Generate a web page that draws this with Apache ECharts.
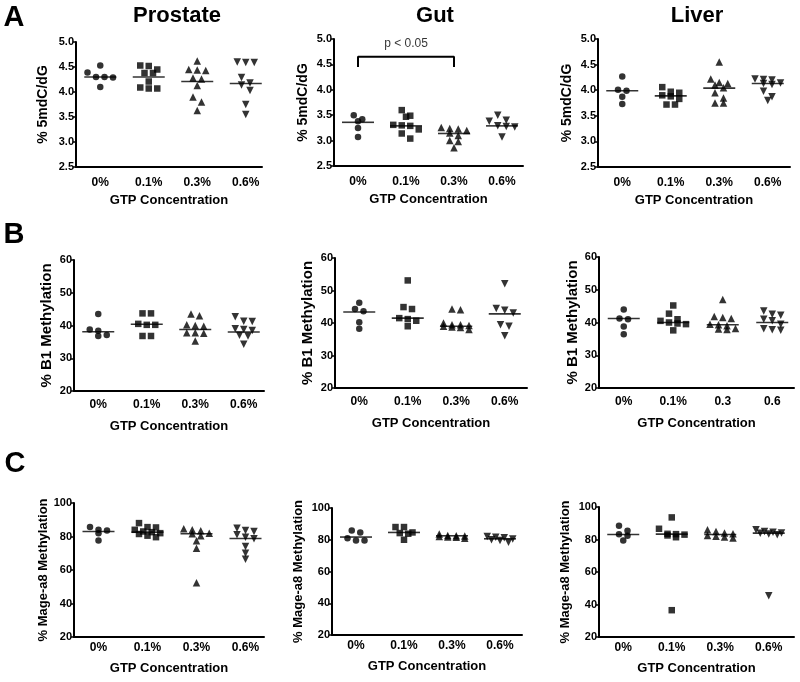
<!DOCTYPE html>
<html><head><meta charset="utf-8">
<script src="https://cdn.jsdelivr.net/npm/echarts@6/dist/echarts.min.js"></script>
<style>html,body{margin:0;padding:0;background:#fff}#c{width:800px;height:682px}</style>
</head><body><div id="c"></div><script>
// ---------- DATA ----------
const categories = ['0%', '0.1%', '0.3%', '0.6%'];
const categoriesLiverB1 = ['0%', '0.1%', '0.3', '0.6'];
const yTicks5mdC = [2.5, 5.0, 0.5];
const yTicksB1 = [20, 60, 10];
const yTicksMage = [20, 100, 20];

const prostate5mdC = [
  [4.53, 4.39, 4.30, 4.30, 4.29, 4.10],
  [4.53, 4.52, 4.45, 4.38, 4.38, 4.21, 4.09, 4.07, 4.07],
  [4.62, 4.45, 4.43, 4.44, 4.28, 4.26, 4.13, 3.90, 3.80, 3.63],
  [4.60, 4.59, 4.59, 4.29, 4.18, 4.14, 4.03, 3.75, 3.55]
];
const prostate5mdCLine = [4.30, 4.30, 4.21, 4.17];

const gut5mdC = [
  [3.50, 3.42, 3.38, 3.25, 3.07],
  [3.60, 3.49, 3.47, 3.31, 3.29, 3.30, 3.22, 3.14, 3.04],
  [3.26, 3.24, 3.23, 3.20, 3.15, 3.10, 3.00, 2.98, 2.86],
  [3.50, 3.40, 3.38, 3.29, 3.28, 3.27, 3.07]
];
const gut5mdCLine = [3.36, 3.29, 3.14, 3.29];

const liver5mdC = [
  [4.27, 4.01, 3.99, 3.87, 3.73],
  [4.06, 3.97, 3.95, 3.90, 3.88, 3.83, 3.72, 3.72],
  [4.55, 4.22, 4.15, 4.13, 4.10, 4.05, 3.95, 3.85, 3.75, 3.75],
  [4.22, 4.21, 4.20, 4.14, 4.13, 4.11, 3.98, 3.87, 3.80]
];
const liver5mdCLine = [3.99, 3.89, 4.04, 4.13];

const prostateB1 = [
  [43.5, 38.8, 38.4, 37.1, 36.8],
  [43.7, 43.7, 40.5, 40.2, 40.2, 36.8, 36.8],
  [43.5, 43.0, 40.2, 40.0, 39.8, 37.8, 37.8, 37.6, 35.3],
  [42.7, 41.3, 41.2, 39.0, 38.8, 38.5, 37.0, 36.8, 34.3]
];
const prostateB1Line = [38.1, 40.4, 38.8, 38.0];

const gutB1 = [
  [46.2, 44.3, 43.6, 40.2, 38.2],
  [53.1, 44.9, 44.3, 41.5, 41.2, 40.7, 39.0],
  [44.3, 44.1, 40.0, 39.5, 39.5, 39.2, 39.0, 38.8, 38.6, 38.0],
  [52.1, 44.5, 43.9, 43.1, 39.5, 39.0, 36.1]
];
const gutB1Line = [43.4, 41.5, 39.0, 42.8];

const liverB1 = [
  [44.0, 41.2, 41.0, 38.8, 36.4],
  [45.2, 42.7, 41.0, 40.5, 40.0, 39.7, 39.5, 37.6],
  [47.0, 41.8, 41.5, 41.2, 39.5, 39.3, 39.0, 38.2, 38.0, 37.9],
  [43.5, 42.5, 42.2, 41.0, 40.5, 39.5, 38.1, 37.8, 37.6]
];
const liverB1Line = [41.2, 40.0, 39.3, 40.0];

const prostateMage = [
  [85.6, 84.0, 83.6, 82.0, 77.6],
  [88.0, 85.6, 85.4, 84.0, 83.0, 82.6, 82.0, 81.5, 80.5, 79.6],
  [84.6, 84.0, 83.5, 82.0, 81.6, 80.4, 77.4, 73.0, 52.4],
  [85.0, 83.6, 83.0, 81.0, 79.6, 78.6, 74.0, 70.0, 66.4]
];
const prostateMageLine = [83.0, 82.6, 81.6, 78.8];

const gutMage = [
  [85.9, 84.6, 81.0, 79.6, 79.6],
  [88.0, 88.0, 84.6, 84.2, 83.8, 80.0],
  [83.6, 82.7, 82.5, 82.3, 82.0, 81.8, 81.5, 81.0],
  [82.0, 81.5, 81.2, 80.5, 80.0, 79.5, 78.5]
];
const gutMageLine = [81.7, 84.6, 82.5, 80.6];

const liverMage = [
  [88.5, 85.4, 83.3, 82.3, 79.4],
  [93.6, 86.6, 83.5, 83.3, 83.0, 82.5, 81.4, 36.5],
  [86.0, 85.0, 84.0, 83.5, 82.5, 82.0, 81.5, 81.0],
  [86.0, 85.0, 84.5, 84.0, 83.8, 83.4, 83.0, 45.4]
];
const liverMageLine = [83.1, 83.3, 83.1, 83.9];

// significance bracket (Gut, 5mdC): between categories 0 and 2
const gutBracket = { from: 0, to: 2, low: 4.45, high: 4.65, textValue: 4.9, text: 'p < 0.05' };

// ---------- LAYOUT / STYLE ----------
const FONT = '"Liberation Sans", Arial, sans-serif';
const rowA = { xm: 10, ng: 27 }, rowB = { xm: 8, ng: 29 }, rowC = { xm: 5, ng: 25 };
const panels = [
  { d: prostate5mdC, m: prostate5mdCLine, cats: categories, ax: yTicks5mdC, name: '% 5mdC/dG', dec: 1, fs: 14, R: rowA,
    L: { left: 76, top: 42, width: 186, height: 125, sp: 48.5, yGap: 26 } },
  { d: gut5mdC, m: gut5mdCLine, cats: categories, ax: yTicks5mdC, name: '% 5mdC/dG', dec: 1, fs: 14, R: rowA,
    L: { left: 334, top: 39, width: 189, height: 127, sp: 48, yGap: 24 } },
  { d: liver5mdC, m: liver5mdCLine, cats: categories, ax: yTicks5mdC, name: '% 5mdC/dG', dec: 1, fs: 14, R: rowA,
    L: { left: 598, top: 39, width: 192, height: 128, sp: 48.5, yGap: 24 } },
  { d: prostateB1, m: prostateB1Line, cats: categories, ax: yTicksB1, name: '% B1 Methylation', dec: 0, fs: 15, R: rowB,
    L: { left: 74, top: 260, width: 190, height: 131, sp: 48.5, yGap: 20 } },
  { d: gutB1, m: gutB1Line, cats: categories, ax: yTicksB1, name: '% B1 Methylation', dec: 0, fs: 15, R: rowB,
    L: { left: 335, top: 258, width: 192, height: 130, sp: 48.5, yGap: 20 } },
  { d: liverB1, m: liverB1Line, cats: categoriesLiverB1, ax: yTicksB1, name: '% B1 Methylation', dec: 0, fs: 15, R: rowB,
    L: { left: 599, top: 257, width: 195, height: 131, sp: 49.5, yGap: 19 } },
  { d: prostateMage, m: prostateMageLine, cats: categories, ax: yTicksMage, name: '% Mage-a8 Methylation', dec: 0, fs: 13, R: rowC,
    L: { left: 74, top: 503, width: 190, height: 134, sp: 49, yGap: 24 } },
  { d: gutMage, m: gutMageLine, cats: categories, ax: yTicksMage, name: '% Mage-a8 Methylation', dec: 0, fs: 13, R: rowC,
    L: { left: 332, top: 508, width: 190, height: 127, sp: 48, yGap: 27 } },
  { d: liverMage, m: liverMageLine, cats: categories, ax: yTicksMage, name: '% Mage-a8 Methylation', dec: 0, fs: 13, R: rowC,
    L: { left: 599, top: 507, width: 195, height: 130, sp: 48.5, yGap: 27 } }
];
const symbols = ['circle', 'rect', 'triangle', 'triangle'];
const rotations = [0, 0, 0, 180];
const symSizes = [6.5, 6.5, 7.5, 7.5];
const SPREAD = 8.5;

function swarm(vals, ppu, d, cap) {
  const order = vals.map((v, i) => i).sort((a, b) => vals[b] - vals[a]);
  const rows = []; let cur = null;
  for (const i of order) {
    if (!cur || (vals[cur.top] - vals[i]) * ppu >= 6 || cur.items.length >= cap) {
      cur = { top: i, items: [] }; rows.push(cur);
    }
    cur.items.push(i);
  }
  const off = new Array(vals.length).fill(0);
  rows.forEach(r => { const n = r.items.length; r.items.forEach((i, k) => { off[i] = (k - (n - 1) / 2) * d; }); });
  return off;
}

const grid = [], xAxis = [], yAxis = [], series = [];
panels.forEach((p, pi) => {
  const L = p.L;
  const [ymin, ymax, yint] = p.ax;
  grid.push({ left: L.left, top: L.top, width: L.width, height: L.height });
  const xmax = L.width / L.sp - 0.5;
  xAxis.push({
    gridIndex: pi, type: 'value', min: -0.5, max: xmax, interval: 0.5,
    axisLine: { show: true, onZero: false, lineStyle: { color: '#000', width: 2 } },
    axisTick: { show: false }, splitLine: { show: false },
    axisLabel: { margin: p.R.xm, color: '#000', fontSize: 12, fontWeight: 'bold', fontFamily: FONT,
      formatter: v => (Math.abs(v - Math.round(v)) < 1e-6 && Math.round(v) >= 0 && Math.round(v) < p.cats.length) ? p.cats[Math.round(v)] : '' },
    name: 'GTP Concentration', nameLocation: 'middle', nameGap: p.R.ng,
    nameTextStyle: { color: '#000', fontSize: 13, fontWeight: 'bold', fontFamily: FONT }
  });
  yAxis.push({
    gridIndex: pi, type: 'value', min: ymin, max: ymax, interval: yint,
    axisLine: { show: true, onZero: false, lineStyle: { color: '#000', width: 2 } },
    axisTick: { show: true, length: 3, lineStyle: { color: '#000', width: 1.5 } },
    splitLine: { show: false },
    axisLabel: { margin: 2, color: '#000', fontSize: 11, fontWeight: 'bold', fontFamily: FONT,
      formatter: v => v.toFixed(p.dec) },
    name: p.name, nameLocation: 'middle', nameGap: L.yGap,
    nameTextStyle: { color: '#000', fontSize: p.fs, fontWeight: 'bold', fontFamily: FONT }
  });
  const ppu = L.height / (ymax - ymin);
  p.d.forEach((vals, c) => {
    const off = swarm(vals, ppu, SPREAD, 4);
    series.push({
      type: 'scatter', xAxisIndex: pi, yAxisIndex: pi, silent: true, animation: false,
      symbol: symbols[c], symbolRotate: rotations[c], symbolSize: symSizes[c],
      itemStyle: { color: '#000' },
      data: vals.map((v, k) => ({ value: [c, v], symbolOffset: [off[k], 0] }))
    });
  });
  series.push({
    type: 'scatter', xAxisIndex: pi, yAxisIndex: pi, silent: true, animation: false, z: 3,
    symbol: 'rect', symbolSize: [32, 1.6], itemStyle: { color: '#000' },
    data: p.m.map((m, c) => [c, m])
  });
});

// bracket on Gut 5mdC panel (index 1)
series.push({
  type: 'line', xAxisIndex: 1, yAxisIndex: 1, silent: true, animation: false, symbol: 'none',
  lineStyle: { color: '#000', width: 2 },
  data: [[gutBracket.from, gutBracket.low], [gutBracket.from, gutBracket.high],
         [gutBracket.to, gutBracket.high], [gutBracket.to, gutBracket.low]]
});
series.push({
  type: 'scatter', xAxisIndex: 1, yAxisIndex: 1, silent: true, animation: false, symbolSize: 0,
  label: { show: true, position: 'inside', formatter: gutBracket.text, color: '#000', fontSize: 12, fontFamily: FONT },
  data: [[(gutBracket.from + gutBracket.to) / 2, gutBracket.textValue]]
});

function txt(x, y, text, size) {
  return { type: 'text', x: x, y: y, silent: true,
    style: { text: text, font: 'bold ' + size + 'px ' + FONT, fill: '#000', align: 'center', verticalAlign: 'middle' } };
}
const graphic = [
  txt(14, 18, 'A', 29), txt(14, 235, 'B', 29), txt(15, 464, 'C', 29),
  txt(177, 16, 'Prostate', 22), txt(435, 16, 'Gut', 22), txt(697, 16, 'Liver', 22)
];

const chart = echarts.init(document.getElementById('c'), null, { renderer: 'canvas' });
chart.setOption({ animation: false, backgroundColor: '#fff', textStyle: { fontFamily: FONT },
  grid, xAxis, yAxis, series, graphic });
</script></body></html>
